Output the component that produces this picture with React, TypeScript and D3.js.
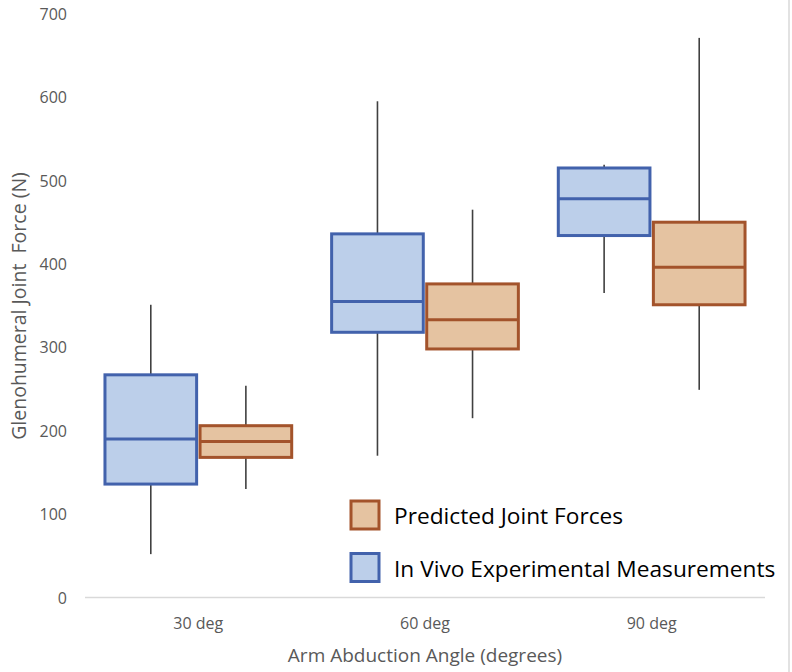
import React from "react";
import * as d3 from "d3";

const categories = ["30 deg", "60 deg", "90 deg"];
const seriesNames = ["In Vivo Experimental Measurements", "Predicted Joint Forces"];
// [min, q1, median, q3, max] per category
const inVivo = [
  [52, 136, 190, 267, 351],
  [170, 318, 355, 436, 595],
  [365, 434, 478, 515, 519],
];
const predicted = [
  [130, 168, 187, 206, 254],
  [215, 298, 333, 376, 465],
  [249, 351, 396, 450, 671],
];
const yTicks = [0, 100, 200, 300, 400, 500, 600, 700];

const W = 792;
const H = 672;
const FONT = "'Open Sans', sans-serif";

const styles = [
  { stroke: "#4262AC", fill: "#BCCFEA" },
  { stroke: "#A3532B", fill: "#E5C3A1" },
];

export default function App() {
  const y = d3.scaleLinear().domain([0, 700]).range([597.5, 13.7]);
  const x = d3.scaleBand().domain(categories).range([85, 765]);
  const xs = d3
    .scaleBand()
    .domain(seriesNames)
    .range([0, x.bandwidth()])
    .paddingInner(0.036)
    .paddingOuter(0.21);
  const data = [inVivo, predicted];

  return (
    <svg
      width={W}
      height={H}
      style={{ position: "fixed", left: 0, top: 0, background: "#fff" }}
      fontFamily={FONT}
    >
      <rect x={0} y={0} width={W} height={H} fill="#fff" />
      <line x1={789} x2={789} y1={0} y2={H} stroke="#D9D9D9" strokeWidth={1.5} />
      {/* y tick labels */}
      {yTicks.map((t) => (
        <text
          key={t}
          x={67}
          y={y(t)}
          textAnchor="end"
          dominantBaseline="central"
          fontSize={16}
          fill="#595959"
        >
          {t}
        </text>
      ))}
      {/* x axis */}
      <line x1={85} x2={765} y1={y(0)} y2={y(0)} stroke="#D9D9D9" strokeWidth={1.3} />
      {categories.map((c) => (
        <text
          key={c}
          x={(x(c) as number) + x.bandwidth() / 2}
          y={623}
          textAnchor="middle"
          dominantBaseline="central"
          fontSize={16}
          fill="#595959"
        >
          {c}
        </text>
      ))}
      {/* boxes */}
      {data.map((series, si) =>
        series.map((d, ci) => {
          const x0 = (x(categories[ci]) as number) + (xs(seriesNames[si]) as number);
          const bw = xs.bandwidth();
          const cx = x0 + bw / 2;
          const [mn, q1, med, q3, mx] = d;
          const st = styles[si];
          return (
            <g key={`${si}-${ci}`}>
              <line x1={cx} x2={cx} y1={y(q3)} y2={y(mx)} stroke="#404040" strokeWidth={1.6} />
              <line x1={cx} x2={cx} y1={y(q1)} y2={y(mn)} stroke="#404040" strokeWidth={1.6} />
              <rect
                x={x0}
                y={y(q3)}
                width={bw}
                height={y(q1) - y(q3)}
                fill={st.fill}
                stroke={st.stroke}
                strokeWidth={3}
              />
              <line x1={x0} x2={x0 + bw} y1={y(med)} y2={y(med)} stroke={st.stroke} strokeWidth={3} />
            </g>
          );
        })
      )}
      {/* legend */}
      {[1, 0].map((si, i) => (
        <g key={si} transform={`translate(351, ${501 + i * 52.5})`}>
          <rect x={0} y={0} width={28} height={28} fill={styles[si].fill} stroke={styles[si].stroke} strokeWidth={3} />
          <text x={43} y={14.5} dominantBaseline="central" fontSize={22.7} fill="#000">
            {seriesNames[si]}
          </text>
        </g>
      ))}
      {/* axis titles */}
      <text x={425} y={655} textAnchor="middle" dominantBaseline="central" fontSize={19} fill="#595959">
        Arm Abduction Angle (degrees)
      </text>
      <text
        transform={`translate(18, 306) rotate(-90)`}
        textAnchor="middle"
        dominantBaseline="central"
        fontSize={19.5}
        fill="#595959"
        style={{ whiteSpace: "pre" }}
      >
        {"Glenohumeral Joint  Force (N)"}
      </text>
    </svg>
  );
}
